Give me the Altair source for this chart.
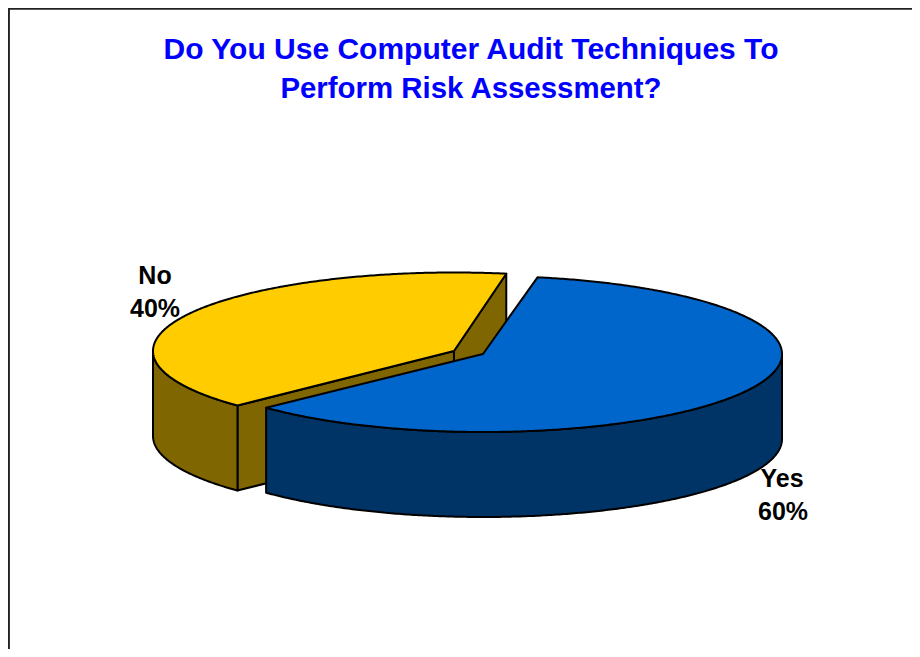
import numpy as np
import pandas as pd
import altair as alt

categories = ["Yes", "No"]
shares = [60, 40]
title_lines = ["Do You Use Computer Audit Techniques To", "Perform Risk Assessment?"]
title_sizes = [30, 29.4]

W, H = 904, 641
DEPTH = 85
cfg = {
    "Yes": dict(cx=483, cy=354, a=299, b=78, start=10.5, top="#0066CC", side="#003366"),
    "No": dict(cx=454, cy=351, a=301, b=78.5, start=10.0, top="#FFCC00", side="#806600"),
}

ranges = {
    "Yes": (cfg["Yes"]["start"], cfg["Yes"]["start"] + shares[0] * 3.6),
    "No": (cfg["No"]["start"] + shares[0] * 3.6, cfg["No"]["start"] + 360),
}


def pt(c, deg):
    r = np.radians(deg)
    return c["cx"] + c["a"] * np.sin(r), c["cy"] - c["b"] * np.cos(r)


def arc(c, d0, d1):
    n = max(2, int(abs(d1 - d0) * 2))
    return [pt(c, d) for d in np.linspace(d0, d1, n)]


def down(points):
    return [(x, y + DEPTH) for x, y in points]


pieces = []  # (points, colour)
# No slice: exposed cut faces, outer wall, top
c = cfg["No"]
d0, d1 = ranges["No"]
apex = (c["cx"], c["cy"])
start_pt, end_pt = pt(c, d1), pt(c, d0)
pieces.append(([apex, start_pt] + down([start_pt, apex]), c["side"]))
pieces.append(([apex, end_pt] + down([end_pt, apex]), c["side"]))
w = arc(c, d0, 270)
pieces.append((w + down(w)[::-1], c["side"]))
pieces.append(([apex] + arc(c, d0, d1), c["top"]))
# Yes slice: outer wall, top
c = cfg["Yes"]
d0, d1 = ranges["Yes"]
apex = (c["cx"], c["cy"])
w = arc(c, 90, d1)
pieces.append((w + down(w)[::-1], c["side"]))
pieces.append(([apex] + arc(c, d0, d1), c["top"]))

xs = alt.Scale(domain=[8, 8 + W], nice=False, zero=False)
ys = alt.Scale(domain=[8 + H, 8], nice=False, zero=False)
X = lambda f="x": alt.X(f"{f}:Q", scale=xs, axis=None)
Y = lambda f="y": alt.Y(f"{f}:Q", scale=ys, axis=None)

layers = []
# frame
frame = pd.DataFrame({"x": [8.9, 8.9, 8 + W], "y": [8 + H, 8.8, 8.8], "i": [0, 1, 2]})
layers.append(
    alt.Chart(frame).mark_line(color="#222222", strokeWidth=2, clip=False)
    .encode(x=X(), y=Y(), order="i:Q")
)

for pts, colour in pieces:
    df = pd.DataFrame(pts, columns=["x", "y"])
    df["i"] = range(len(df))
    layers.append(
        alt.Chart(df).mark_line(
            interpolate="linear-closed", fill=colour, stroke="black",
            strokeWidth=2, strokeJoin="round",
        ).encode(x=X(), y=Y(), order="i:Q")
    )

for line, size, bx, by in zip(title_lines, title_sizes, [471, 471], [58.5, 98]):
    layers.append(
        alt.Chart(pd.DataFrame({"t": [line], "x": [bx], "y": [by]})).mark_text(
            font="Liberation Sans", fontWeight="bold", fontSize=size, color="#0000FF",
            align="center", baseline="alphabetic",
        ).encode(x=X(), y=Y(), text="t:N")
    )

labels = pd.DataFrame({
    "t": [categories[1], f"{shares[1]}%", categories[0], f"{shares[0]}%"],
    "x": [155, 155, 782, 783],
    "y": [284, 317, 487, 520],
})
layers.append(
    alt.Chart(labels).mark_text(
        font="Liberation Sans", fontWeight="bold", fontSize=25, color="black",
        align="center", baseline="alphabetic",
    ).encode(x=X(), y=Y(), text="t:N")
)

chart = alt.layer(*layers).properties(
    width=W, height=H, padding=0, autosize=alt.AutoSizeParams(type="none"),
    background="white",
).configure_view(stroke=None)

chart.save("out.html", embed_options={"renderer": "svg", "actions": False})
